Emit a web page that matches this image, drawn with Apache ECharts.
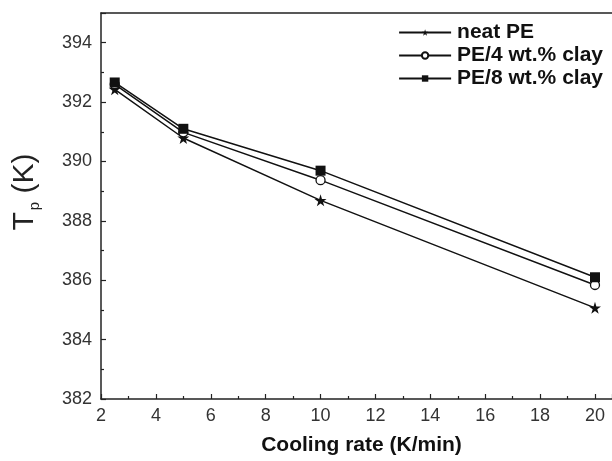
<!DOCTYPE html>
<html>
<head>
<meta charset="utf-8">
<script src="https://cdn.jsdelivr.net/npm/echarts@6/dist/echarts.min.js"></script>
<style>
html,body{margin:0;padding:0;background:#fff;}
#c{width:612px;height:461px;}
</style>
</head>
<body>
<div id="c"></div>
<script>
var coolingRates = [2.5, 5, 10, 20];
var neatPE = [392.43, 390.79, 388.69, 385.07];
var pe4Clay = [392.60, 390.98, 389.37, 385.84];
var pe8Clay = [392.66, 391.10, 389.69, 386.10];
var seriesNames = ['neat PE', 'PE/4 wt.% clay', 'PE/8 wt.% clay'];

var starPath = 'path://M50,0 L61.8,35.4 L100,35.4 L69.1,57.3 L80.9,93.5 L50,71.5 L19.1,93.5 L30.9,57.3 L0,35.4 L38.2,35.4 Z';

function pairs(ys){ return coolingRates.map(function(x,i){ return [x, ys[i]]; }); }

var chart = echarts.init(document.getElementById('c'), null, {renderer:'canvas'});
var font = 'Liberation Sans, Arial, sans-serif';
var lineStyle = {color:'#111', width:1.5};
chart.setOption({
  animation:false,
  backgroundColor:'#fff',
  grid:{left:101, top:13, right:0, bottom:58},
  legend:{
    orient:'vertical', right:4, top:17, itemGap:2, itemWidth:52, itemHeight:8,
    textStyle:{fontFamily:font, fontWeight:'bold', fontSize:21, color:'#111', padding:[0,0,0,1]},
    data:seriesNames
  },
  xAxis:[{
    type:'value', min:2, max:20.62, interval:2, position:'bottom',
    name:'Cooling rate (K/min)', nameLocation:'middle', nameGap:36,
    nameTextStyle:{fontFamily:font, fontWeight:'bold', fontSize:21, color:'#111', padding:[0,0,0,10]},
    axisLine:{lineStyle:{color:'#222', width:1.5}},
    axisTick:{inside:true, length:5, lineStyle:{color:'#222', width:1.2}},
    minorTick:{show:true, splitNumber:2, length:3, lineStyle:{color:'#222', width:1.2}},
    axisLabel:{fontFamily:font, fontSize:18, color:'#333', margin:8, showMaxLabel:false},
    splitLine:{show:false}
  },{
    type:'value', min:2, max:20.62, position:'top',
    axisLine:{show:true, lineStyle:{color:'#222', width:1.5}},
    axisTick:{show:false}, axisLabel:{show:false}, splitLine:{show:false}
  }],
  yAxis:{
    type:'value', min:382, max:395, interval:2,
    name:'{t|T}{p|p}{t| (K)}', nameLocation:'middle', nameGap:59, nameRotate:90,
    nameTextStyle:{padding:[0,0,0,28], rich:{
      t:{fontFamily:font, fontSize:30, color:'#222'},
      p:{fontFamily:font, fontSize:15, color:'#222', verticalAlign:'bottom', padding:[20,0,0,2]}
    }},
    axisLine:{show:true, lineStyle:{color:'#222', width:1.5}},
    axisTick:{inside:true, length:5, lineStyle:{color:'#222', width:1.2}},
    minorTick:{show:true, splitNumber:2, length:3, lineStyle:{color:'#222', width:1.2}},
    axisLabel:{fontFamily:font, fontSize:18, color:'#333', margin:9, showMaxLabel:false},
    splitLine:{show:false}
  },
  series:[
    {name:seriesNames[0], type:'line', data:pairs(neatPE), symbol:starPath, symbolSize:12,
     lineStyle:lineStyle, itemStyle:{color:'#111'}},
    {name:seriesNames[1], type:'line', data:pairs(pe4Clay), symbol:'circle', symbolSize:9,
     lineStyle:lineStyle, itemStyle:{color:'#fff', borderColor:'#111', borderWidth:1.3}},
    {name:seriesNames[2], type:'line', data:pairs(pe8Clay), symbol:'rect', symbolSize:10,
     lineStyle:lineStyle, itemStyle:{color:'#111'}}
  ]
});
</script>
</body>
</html>
